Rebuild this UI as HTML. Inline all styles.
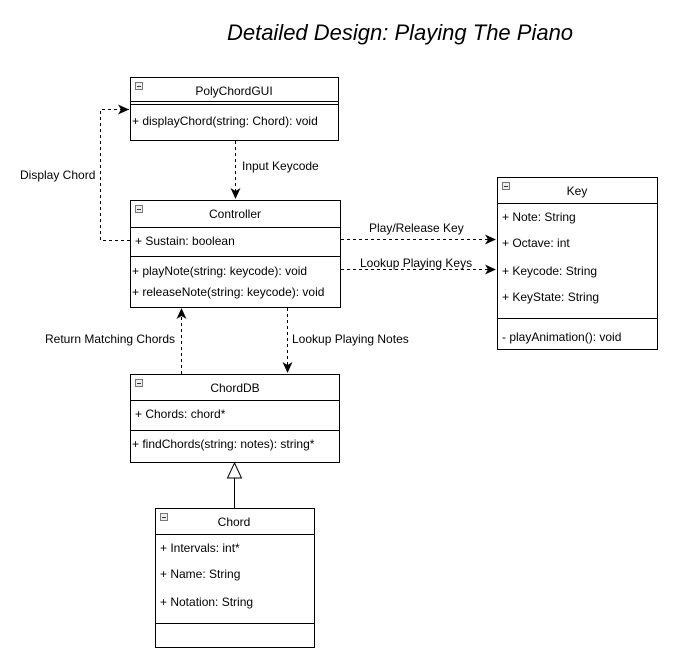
<!DOCTYPE html>
<html><head><style>
body{margin:0;background:#fff;}
svg{display:block;font-family:"Liberation Sans",Arial,sans-serif;}
text{font-size:12px;fill:#000;}
</style></head><body>
<svg width="689" height="666" viewBox="0 0 689 666" xmlns="http://www.w3.org/2000/svg">
<defs>
<marker id="a" markerWidth="12" markerHeight="10" refX="11" refY="5" orient="auto" markerUnits="userSpaceOnUse">
<path d="M0,0 L11,5 L0,10 L3,5 Z" fill="#000"/>
</marker>
</defs>
<text x="400" y="40" text-anchor="middle" style="font-size:22px;font-style:italic">Detailed Design: Playing The Piano</text>

<g fill="none" stroke="#000" stroke-width="1">
<rect x="130.5" y="77.5" width="208" height="63"/>
<line x1="130" y1="101.5" x2="339" y2="101.5"/>
<line x1="130" y1="104.5" x2="339" y2="104.5"/>
<rect x="130.5" y="200.5" width="210" height="107"/>
<line x1="130" y1="227.5" x2="341" y2="227.5"/>
<line x1="130" y1="256.5" x2="341" y2="256.5"/>
<rect x="497.5" y="177.5" width="160" height="172"/>
<line x1="497" y1="203.5" x2="658" y2="203.5"/>
<line x1="497" y1="318.5" x2="658" y2="318.5"/>
<rect x="130.5" y="374.5" width="209" height="88"/>
<line x1="130" y1="400.5" x2="340" y2="400.5"/>
<line x1="130" y1="430.5" x2="340" y2="430.5"/>
<rect x="155.5" y="508.5" width="159" height="139"/>
<line x1="155" y1="534.5" x2="315" y2="534.5"/>
<line x1="155" y1="623.5" x2="315" y2="623.5"/>
<line x1="234.5" y1="478" x2="234.5" y2="508"/>
<path d="M234.5,463 L241.5,478 L227.5,478 Z" fill="#fff"/>
</g>

<g fill="#eee" stroke="#777" stroke-width="1">
<rect x="135.5" y="82.5" width="7" height="7"/>
<rect x="135.5" y="205.5" width="7" height="7"/>
<rect x="502.5" y="182.5" width="7" height="7"/>
<rect x="135.5" y="379.5" width="7" height="7"/>
<rect x="160.5" y="513.5" width="7" height="7"/>
</g>
<g stroke="#333" stroke-width="1">
<line x1="137" y1="86.5" x2="141" y2="86.5"/>
<line x1="137" y1="209.5" x2="141" y2="209.5"/>
<line x1="504" y1="186.5" x2="508" y2="186.5"/>
<line x1="137" y1="383.5" x2="141" y2="383.5"/>
<line x1="162" y1="517.5" x2="166" y2="517.5"/>
</g>

<g fill="none" stroke="#000" stroke-width="1" stroke-dasharray="3,3">
<path d="M130,240.5 L100.5,240.5 L100.5,109.5 L129,109.5" marker-end="url(#a)"/>
<path d="M235.5,141 L235.5,199" marker-end="url(#a)"/>
<path d="M341,239.5 L496,239.5" marker-end="url(#a)"/>
<path d="M341,269.5 L496,269.5" marker-end="url(#a)"/>
<path d="M181.5,374 L181.5,308" marker-end="url(#a)"/>
<path d="M287.5,308 L287.5,373" marker-end="url(#a)"/>
</g>

<text x="234" y="95" text-anchor="middle">PolyChordGUI</text>
<text x="132" y="125">+ displayChord(string: Chord): void</text>
<text x="235" y="218" text-anchor="middle">Controller</text>
<text x="135" y="245">+ Sustain: boolean</text>
<text x="132" y="275">+ playNote(string: keycode): void</text>
<text x="132" y="296">+ releaseNote(string: keycode): void</text>
<text x="577" y="195" text-anchor="middle">Key</text>
<text x="502" y="221">+ Note: String</text>
<text x="502" y="247">+ Octave: int</text>
<text x="502" y="275">+ Keycode: String</text>
<text x="502" y="301">+ KeyState: String</text>
<text x="502" y="341">- playAnimation(): void</text>
<text x="235" y="392" text-anchor="middle">ChordDB</text>
<text x="135" y="418">+ Chords: chord*</text>
<text x="132" y="448">+ findChords(string: notes): string*</text>
<text x="234" y="526" text-anchor="middle">Chord</text>
<text x="160" y="552">+ Intervals: int*</text>
<text x="160" y="578">+ Name: String</text>
<text x="160" y="606">+ Notation: String</text>

<text x="20" y="179">Display Chord</text>
<text x="242" y="170">Input Keycode</text>
<text x="369" y="232">Play/Release Key</text>
<text x="360" y="267">Lookup Playing Keys</text>
<text x="45" y="343">Return Matching Chords</text>
<text x="292" y="343">Lookup Playing Notes</text>
</svg>
</body></html>
